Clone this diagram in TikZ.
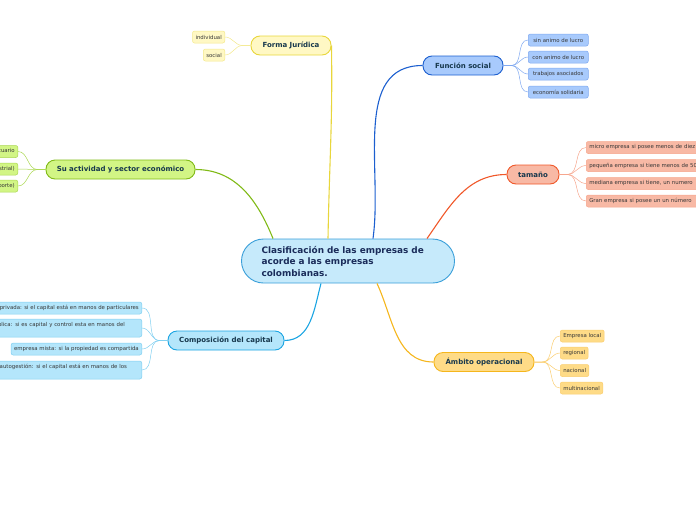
\documentclass[tikz,border=0pt]{standalone}
\usepackage{fontspec}
\setmainfont{DejaVu Sans}
\usetikzlibrary{positioning,calc}
\definecolor{maintext}{RGB}{26,44,90}
\definecolor{branchtext}{RGB}{23,56,77}
\definecolor{leaftext}{RGB}{55,55,55}
\definecolor{mainfill}{RGB}{198,234,251}
\definecolor{mainline}{RGB}{58,159,217}
\definecolor{yelfill}{RGB}{255,248,196}
\definecolor{yelline}{RGB}{232,214,60}
\definecolor{yelleaf}{RGB}{243,232,138}
\definecolor{bluefill}{RGB}{168,202,252}
\definecolor{blueline}{RGB}{28,95,207}
\definecolor{blueleaf}{RGB}{127,168,240}
\definecolor{salfill}{RGB}{248,185,165}
\definecolor{salline}{RGB}{240,88,42}
\definecolor{salleaf}{RGB}{246,165,140}
\definecolor{limefill}{RGB}{210,245,133}
\definecolor{limeline}{RGB}{128,186,22}
\definecolor{limeleaf}{RGB}{170,215,80}
\definecolor{cyanfill}{RGB}{180,230,251}
\definecolor{cyanline}{RGB}{26,164,226}
\definecolor{cyanleaf}{RGB}{128,207,240}
\definecolor{ambfill}{RGB}{254,219,135}
\definecolor{ambline}{RGB}{245,182,28}
\definecolor{ambleaf}{RGB}{250,205,110}

\tikzset{
  branch/.style 2 args={draw=#1, fill=#2, line width=0.9pt, rounded corners=9pt,
    minimum height=19pt, inner xsep=6pt, text=branchtext,
    font=\fontsize{7}{8.5}\selectfont\bfseries},
  leaf/.style 2 args={draw=#1, fill=#2, line width=0.5pt, rounded corners=2pt,
    minimum height=12pt, inner xsep=3pt, inner ysep=1pt, text=leaftext,
    font=\fontsize{5.4}{6.6}\selectfont},
  mainlink/.style={draw=#1, line width=1.1pt},
  sublink/.style={draw=#1, line width=0.5pt}
}

\begin{document}
\begin{tikzpicture}[x=1pt,y=-1pt]
\useasboundingbox (0,0) rectangle (696,520);
\clip (0,0) rectangle (696,520);

% -------- Central node --------
\node[
draw=mainline,
fill=mainfill,
line width=0.9pt,
rounded corners=22pt,
minimum width=213pt,
minimum height=44pt,
text width=173pt,
align=left,
text=maintext,
font=\fontsize{8.9}{11.5}\selectfont\bfseries
] (main) at (348,261)
{Clasificación de las empresas de\\ acorde a las empresas\\ colombianas.};

% -------- Branches --------
\node[branch={yelline}{yelfill}, minimum width=80pt] (juridica) at (291,45.5) {Forma Jurídica};
\node[branch={blueline}{bluefill}, minimum width=80pt] (social) at (463,65.5) {Función social};
\node[branch={salline}{salfill}, minimum width=52pt] (tamano) at (533,174.5) {tamaño};
\node[branch={limeline}{limefill}, minimum width=149pt] (actividad) at (120.5,169.5) {Su actividad y sector económico};
\node[branch={cyanline}{cyanfill}, minimum width=116pt] (capital) at (226,340.5) {Composición del capital};
\node[branch={ambline}{ambfill}, minimum width=100pt] (ambito) at (484,362) {Ámbito operacional};

% -------- Main connectors --------
\draw[mainlink=limeline] ($(main.north)+(-75,0)$) to[out=112,in=0] (actividad.east);
\draw[mainlink=yelline] ($(main.north)+(-20,0)$) to[out=89,in=-89] (juridica.east);
\draw[mainlink=blueline] ($(main.north)+(25,0)$) to[out=82,in=180] (social.west);
\draw[mainlink=salline] ($(main.north)+(79,0)$) to[out=55,in=180] (tamano.west);
\draw[mainlink=cyanline] ($(main.south)+(-27,0)$) to[out=-105,in=0] (capital.east);
\draw[mainlink=ambline] ($(main.south)+(29,0)$) to[out=-65,in=180] (ambito.west);

% -------- Forma Juridica leaves --------
\node[leaf={yelleaf}{yelfill}, anchor=east] (individual) at (225,37) {individual};
\node[leaf={yelleaf}{yelfill}, anchor=east] (socialleaf) at (225,55) {social};
\draw[sublink=yelleaf] (juridica.west) -- ++(-8,0) to[out=180,in=0] (individual.east);
\draw[sublink=yelleaf] (juridica.west) -- ++(-8,0) to[out=180,in=0] (socialleaf.east);

% -------- Funcion social leaves --------
\node[leaf={blueleaf}{bluefill}, anchor=west, minimum width=60pt] (sinanimo) at (528,40) {sin animo de lucro};
\node[leaf={blueleaf}{bluefill}, anchor=west, minimum width=60pt] (conanimo) at (528,57) {con animo de lucro};
\node[leaf={blueleaf}{bluefill}, anchor=west, minimum width=60pt] (trabajos) at (528,74) {trabajos asociados};
\node[leaf={blueleaf}{bluefill}, anchor=west, minimum width=60pt] (solidaria) at (528,92) {economía solidaria};
\draw[sublink=blueleaf] (social.east) -- ++(8,0) to[out=0,in=180] (sinanimo.west);
\draw[sublink=blueleaf] (social.east) -- ++(8,0) to[out=0,in=180] (conanimo.west);
\draw[sublink=blueleaf] (social.east) -- ++(8,0) to[out=0,in=180] (trabajos.west);
\draw[sublink=blueleaf] (social.east) -- ++(8,0) to[out=0,in=180] (solidaria.west);

% -------- tamano leaves --------
\node[leaf={salleaf}{salfill}, anchor=west, text width=150pt, align=left] (micro) at (586,147.5) {micro empresa si posee menos de diez};
\node[leaf={salleaf}{salfill}, anchor=west, text width=150pt, align=left] (pequena) at (586,165.5) {pequeña empresa si tiene menos de 50};
\node[leaf={salleaf}{salfill}, anchor=west, text width=150pt, align=left] (mediana) at (586,183.5) {mediana empresa si tiene, un numero};
\node[leaf={salleaf}{salfill}, anchor=west, text width=150pt, align=left] (gran) at (586,201) {Gran empresa si posee un un número};
\draw[sublink=salleaf] (tamano.east) -- ++(8,0) to[out=0,in=180] (micro.west);
\draw[sublink=salleaf] (tamano.east) -- ++(8,0) to[out=0,in=180] (pequena.west);
\draw[sublink=salleaf] (tamano.east) -- ++(8,0) to[out=0,in=180] (mediana.west);
\draw[sublink=salleaf] (tamano.east) -- ++(8,0) to[out=0,in=180] (gran.west);

% -------- Su actividad leaves --------
\node[leaf={limeleaf}{limefill}, anchor=east] (agro) at (18,151.5) {agropecuario};
\node[leaf={limeleaf}{limefill}, anchor=east] (industrial) at (18,169) {(industrial)};
\node[leaf={limeleaf}{limefill}, anchor=east] (transporte) at (18,186) {(transporte)};
\draw[sublink=limeleaf] (actividad.west) -- ++(-8,0) to[out=180,in=0] (agro.east);
\draw[sublink=limeleaf] (actividad.west) -- ++(-8,0) to[out=180,in=0] (industrial.east);
\draw[sublink=limeleaf] (actividad.west) -- ++(-8,0) to[out=180,in=0] (transporte.east);

% -------- Composicion leaves --------
\node[leaf={cyanleaf}{cyanfill}, anchor=east] (privada) at (142,308) {Empresa privada: si el capital está en manos de particulares};
\node[leaf={cyanleaf}{cyanfill}, anchor=east, text width=173pt, align=left, minimum height=18pt] (publica) at (142,328) {Empresa pública: si es capital y control esta en manos del\\ Estado};
\node[leaf={cyanleaf}{cyanfill}, anchor=east] (mixta) at (142,349) {empresa mista: si la propiedad es compartida};
\node[leaf={cyanleaf}{cyanfill}, anchor=east, text width=173pt, align=left, minimum height=18pt] (autogestion) at (142,370) {Empresa de autogestión: si el capital está en manos de los\\ trabajadores};
\draw[sublink=cyanleaf] (capital.west) -- ++(-8,0) to[out=180,in=0] (privada.east);
\draw[sublink=cyanleaf] (capital.west) -- ++(-8,0) to[out=180,in=0] (publica.east);
\draw[sublink=cyanleaf] (capital.west) -- ++(-8,0) to[out=180,in=0] (mixta.east);
\draw[sublink=cyanleaf] (capital.west) -- ++(-8,0) to[out=180,in=0] (autogestion.east);

% -------- Ambito leaves --------
\node[leaf={ambleaf}{ambfill}, anchor=west] (local) at (560,336) {Empresa local};
\node[leaf={ambleaf}{ambfill}, anchor=west] (regional) at (560,353) {regional};
\node[leaf={ambleaf}{ambfill}, anchor=west] (nacional) at (560,370.5) {nacional};
\node[leaf={ambleaf}{ambfill}, anchor=west] (multinacional) at (560,388) {multinacional};
\draw[sublink=ambleaf] (ambito.east) -- ++(8,0) to[out=0,in=180] (local.west);
\draw[sublink=ambleaf] (ambito.east) -- ++(8,0) to[out=0,in=180] (regional.west);
\draw[sublink=ambleaf] (ambito.east) -- ++(8,0) to[out=0,in=180] (nacional.west);
\draw[sublink=ambleaf] (ambito.east) -- ++(8,0) to[out=0,in=180] (multinacional.west);

\end{tikzpicture}
\end{document}
